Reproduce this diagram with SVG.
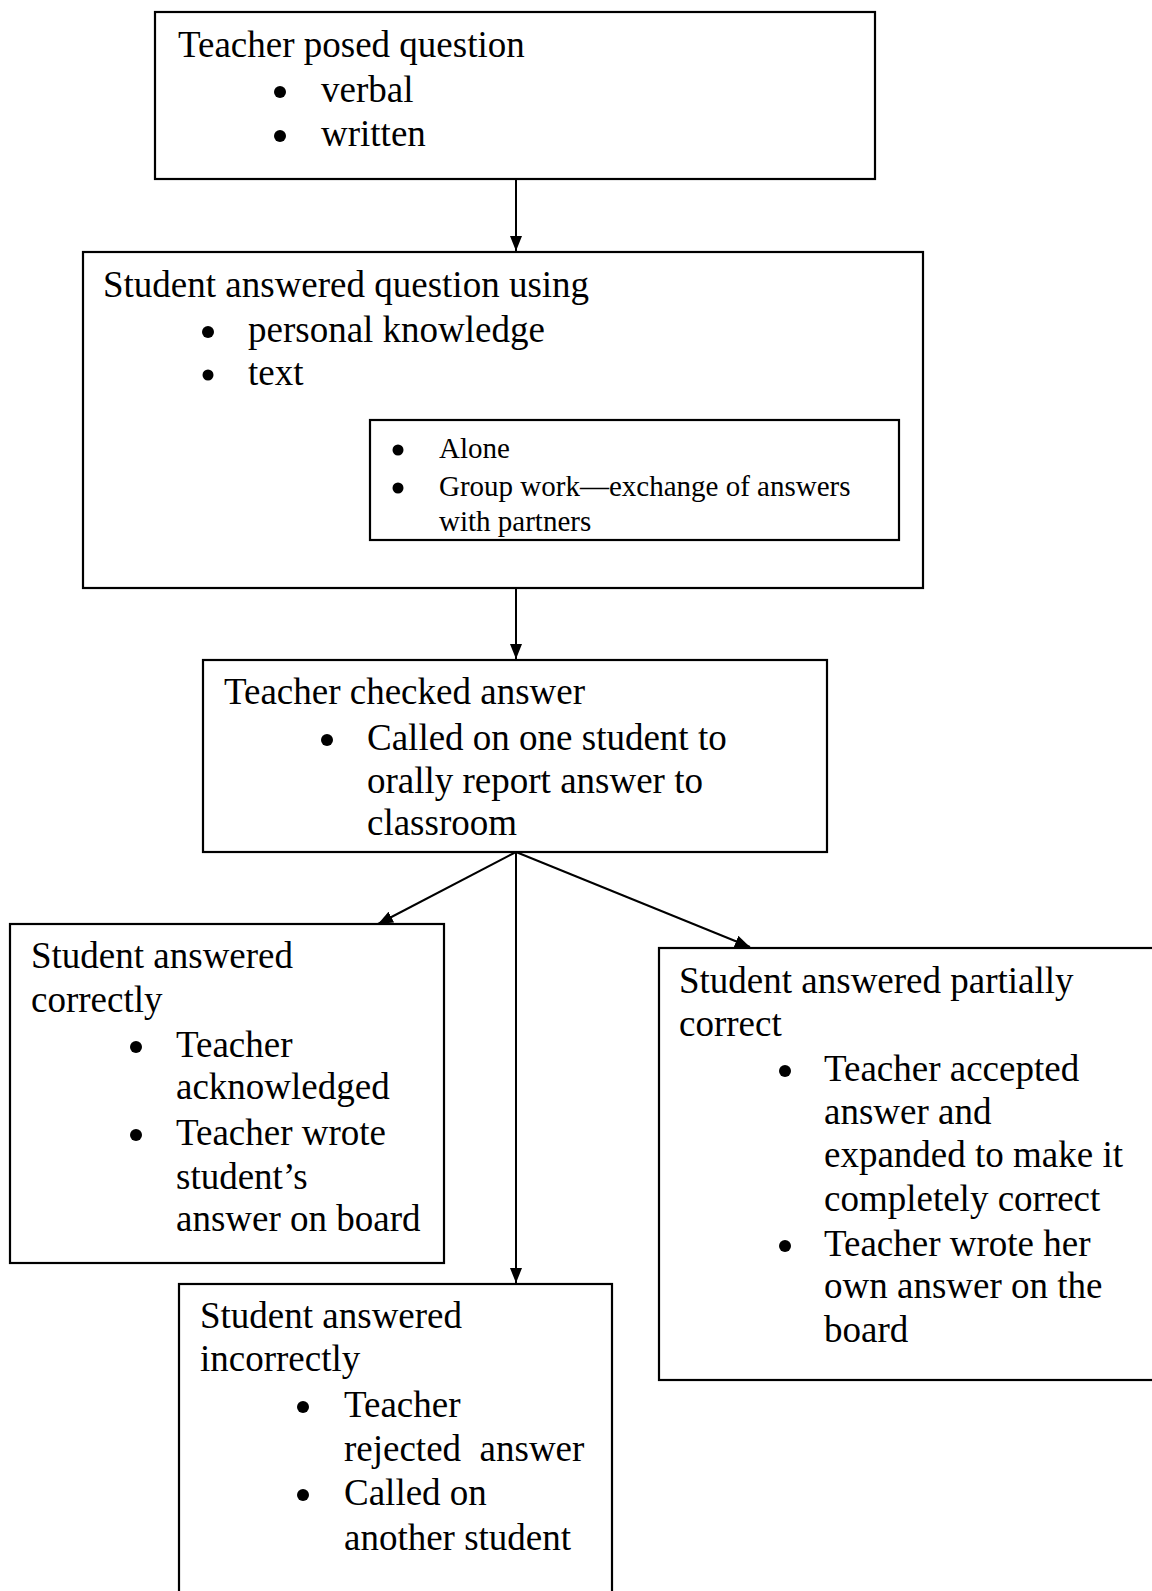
<svg xmlns="http://www.w3.org/2000/svg" width="1152" height="1591" viewBox="0 0 1152 1591">
<defs>
<marker id="ah" markerUnits="userSpaceOnUse" markerWidth="15" markerHeight="12" refX="15" refY="6" orient="auto">
<path d="M0,0 L15,6 L0,12 z" fill="#000"/>
</marker>
<style>
.box{fill:#fff;stroke:#000;stroke-width:2.2}
.t{font-family:"Liberation Serif","Times New Roman",serif;font-size:37px;fill:#000}
.s{font-family:"Liberation Serif","Times New Roman",serif;font-size:29px;fill:#000}
.dot{fill:#000}
.c{fill:none;stroke:#000;stroke-width:2}
</style>
</defs>
<rect width="1152" height="1591" fill="#fff"/>
<g id="connectors">
<line class="c" x1="516" y1="180" x2="516" y2="251" marker-end="url(#ah)"/>
<line class="c" x1="516" y1="588" x2="516" y2="659" marker-end="url(#ah)"/>
<line class="c" x1="516" y1="852" x2="378" y2="924" marker-end="url(#ah)"/>
<line class="c" x1="516" y1="852" x2="516" y2="1283" marker-end="url(#ah)"/>
<line class="c" x1="516" y1="852" x2="750" y2="947" marker-end="url(#ah)"/>
</g>
<g id="n1">
<rect class="box" x="155" y="12" width="720" height="167"/>
<text class="t" x="178" y="57">Teacher posed question</text>
<circle class="dot" cx="280" cy="92" r="6"/>
<text class="t" x="321" y="102">verbal</text>
<circle class="dot" cx="280" cy="136" r="6"/>
<text class="t" x="321" y="146">written</text>
</g>
<g id="n2">
<rect class="box" x="83" y="252" width="840" height="336"/>
<text class="t" x="103" y="297">Student answered question using</text>
<circle class="dot" cx="208" cy="332" r="6"/>
<text class="t" x="248" y="342">personal knowledge</text>
<circle class="dot" cx="208" cy="375" r="5.5"/>
<text class="t" x="248" y="385">text</text>
</g>
<g id="n2b">
<rect class="box" x="370" y="420" width="529" height="120"/>
<circle class="dot" cx="398" cy="450" r="5.5"/>
<text class="s" x="439" y="458">Alone</text>
<circle class="dot" cx="398" cy="488" r="5.5"/>
<text class="s" x="439" y="496">Group work—exchange of answers</text>
<text class="s" x="439" y="531">with partners</text>
</g>
<g id="n3">
<rect class="box" x="203" y="660" width="624" height="192"/>
<text class="t" x="224" y="704">Teacher checked answer</text>
<circle class="dot" cx="327" cy="740" r="6"/>
<text class="t" x="367" y="750">Called on one student to</text>
<text class="t" x="367" y="793">orally report answer to</text>
<text class="t" x="367" y="835">classroom</text>
</g>
<g id="n4">
<rect class="box" x="10" y="924" width="434" height="339"/>
<text class="t" x="31" y="968">Student answered</text>
<text class="t" x="31" y="1012">correctly</text>
<circle class="dot" cx="136" cy="1047" r="6"/>
<text class="t" x="176" y="1057">Teacher</text>
<text class="t" x="176" y="1099">acknowledged</text>
<circle class="dot" cx="136" cy="1135" r="6"/>
<text class="t" x="176" y="1145">Teacher wrote</text>
<text class="t" x="176" y="1189">student’s</text>
<text class="t" x="176" y="1231">answer on board</text>
</g>
<g id="n5">
<rect class="box" x="179" y="1284" width="433" height="330"/>
<text class="t" x="200" y="1328">Student answered</text>
<text class="t" x="200" y="1371">incorrectly</text>
<circle class="dot" cx="303" cy="1407" r="6"/>
<text class="t" x="344" y="1417">Teacher</text>
<text class="t" x="344" y="1461" xml:space="preserve">rejected  answer</text>
<circle class="dot" cx="303" cy="1495" r="6"/>
<text class="t" x="344" y="1505">Called on</text>
<text class="t" x="344" y="1550">another student</text>
</g>
<g id="n6">
<rect class="box" x="659" y="948" width="520" height="432"/>
<text class="t" x="679" y="993">Student answered partially</text>
<text class="t" x="679" y="1036">correct</text>
<circle class="dot" cx="785" cy="1071" r="6"/>
<text class="t" x="824" y="1081">Teacher accepted</text>
<text class="t" x="824" y="1124">answer and</text>
<text class="t" x="824" y="1167">expanded to make it</text>
<text class="t" x="824" y="1211">completely correct</text>
<circle class="dot" cx="785" cy="1246" r="6"/>
<text class="t" x="824" y="1256">Teacher wrote her</text>
<text class="t" x="824" y="1298">own answer on the</text>
<text class="t" x="824" y="1342">board</text>
</g>
</svg>
